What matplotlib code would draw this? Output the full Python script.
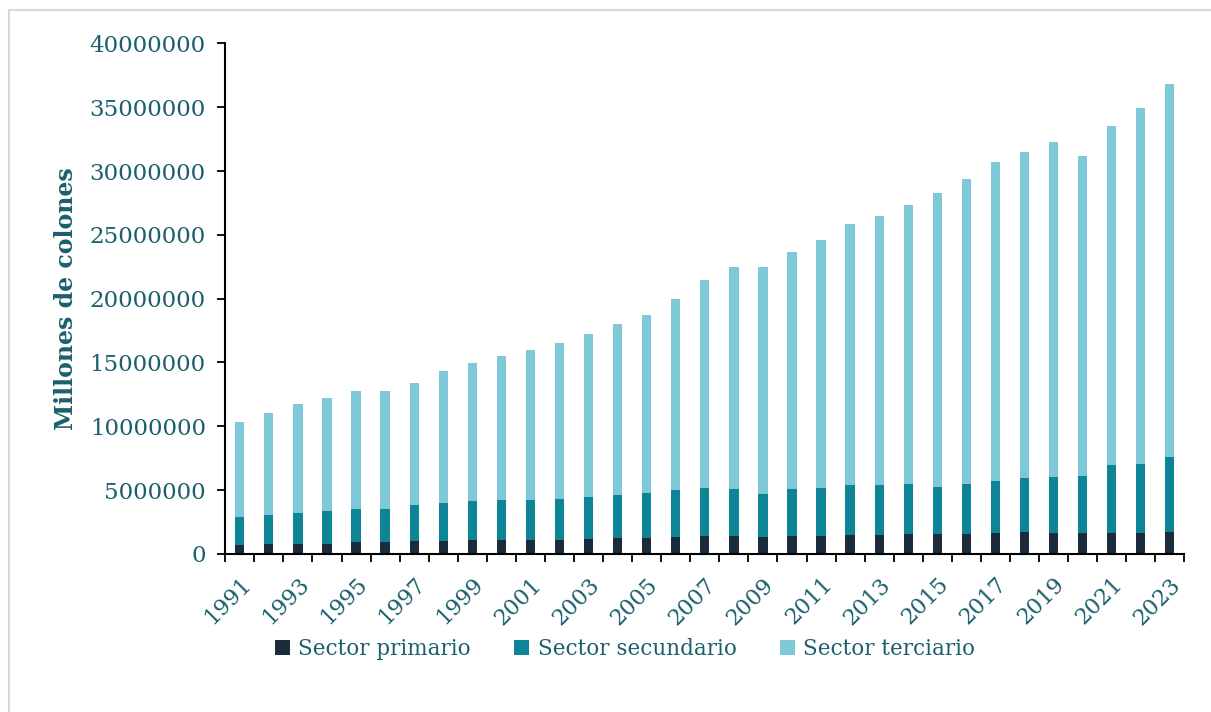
import numpy as np
import matplotlib
matplotlib.use("Agg")
import matplotlib.pyplot as plt
from matplotlib.lines import Line2D

years = list(range(1991, 2024))
# valores en millones de colones
primario = np.array([0.71, 0.76, 0.76, 0.81, 0.92, 0.92, 1.02, 1.05, 1.10, 1.10, 1.10,
                     1.10, 1.18, 1.23, 1.23, 1.36, 1.44, 1.44, 1.34, 1.44, 1.44, 1.49,
                     1.49, 1.55, 1.55, 1.60, 1.63, 1.73, 1.67, 1.67, 1.67, 1.67, 1.73]) * 1e6
secundario = np.array([2.18, 2.31, 2.46, 2.52, 2.62, 2.62, 2.78, 2.98, 3.04, 3.15, 3.15,
                       3.20, 3.28, 3.35, 3.51, 3.65, 3.75, 3.62, 3.35, 3.62, 3.72, 3.91,
                       3.91, 3.90, 3.72, 3.90, 4.11, 4.22, 4.38, 4.46, 5.30, 5.41, 5.84]) * 1e6
terciario = np.array([7.43, 8.01, 8.52, 8.91, 9.20, 9.20, 9.59, 10.28, 10.82, 11.26, 11.76,
                      12.23, 12.78, 13.40, 13.95, 14.93, 16.27, 17.45, 17.82, 18.60, 19.47,
                      20.49, 21.04, 21.88, 23.03, 23.90, 24.97, 25.55, 26.24, 25.08, 26.57,
                      27.88, 29.25]) * 1e6
series_names = ["Sector primario", "Sector secundario", "Sector terciario"]
colors = ["#1c2b3c", "#0e8597", "#7ec8d8"]
yticks = np.arange(0, 40000001, 5000000)

txt = "#1b5f6d"
plt.rcParams['font.family'] = ['DejaVu Serif']

fig = plt.figure(figsize=(12.11, 7.12), dpi=100)
ax = fig.add_axes([0.186, 0.222, 0.792, 0.717])

x = np.arange(len(years))
w = 0.32
ax.bar(x, primario, w, color=colors[0], label=series_names[0])
ax.bar(x, secundario, w, bottom=primario, color=colors[1], label=series_names[1])
ax.bar(x, terciario, w, bottom=primario + secundario, color=colors[2], label=series_names[2])

ax.set_xlim(-0.5, len(years) - 0.5)
ax.set_ylim(0, 40000000)
ax.set_yticks(yticks)
ax.set_yticklabels([str(int(v)) for v in yticks], color=txt, fontsize=16.5)

ax.set_xticks(x[::2])
ax.set_xticklabels([str(y) for y in years[::2]], rotation=45, ha='right',
                   rotation_mode='anchor', color=txt, fontsize=16)
ax.set_xticks(np.arange(-0.5, len(years)), minor=True)
ax.tick_params(axis='x', which='major', length=0, pad=14)
ax.tick_params(axis='x', which='minor', length=6, width=1.3, color='black', direction='out')
ax.tick_params(axis='y', length=6, width=1.3, color='black', pad=8)

for s in ['top', 'right']:
    ax.spines[s].set_visible(False)
for s in ['left', 'bottom']:
    ax.spines[s].set_linewidth(1.5)
    ax.spines[s].set_color('black')

ax.set_ylabel("Millones de colones", fontsize=17, fontweight='bold', color=txt, labelpad=8)

leg = fig.legend(loc='center', bbox_to_anchor=(0.516, 0.088), ncol=3, frameon=False,
                 fontsize=15.5, handlelength=0.7, handleheight=0.7, handletextpad=0.4,
                 columnspacing=2.0)
for t in leg.get_texts():
    t.set_color(txt)

# marco gris claro
fig.add_artist(Line2D([9 / 1211, 9 / 1211], [0, 1 - 10 / 712], transform=fig.transFigure,
                      color='#d9d9d9', lw=1.5))
fig.add_artist(Line2D([9 / 1211, 1], [1 - 10 / 712, 1 - 10 / 712], transform=fig.transFigure,
                      color='#d9d9d9', lw=1.5))

fig.savefig("out.png", dpi=100)
